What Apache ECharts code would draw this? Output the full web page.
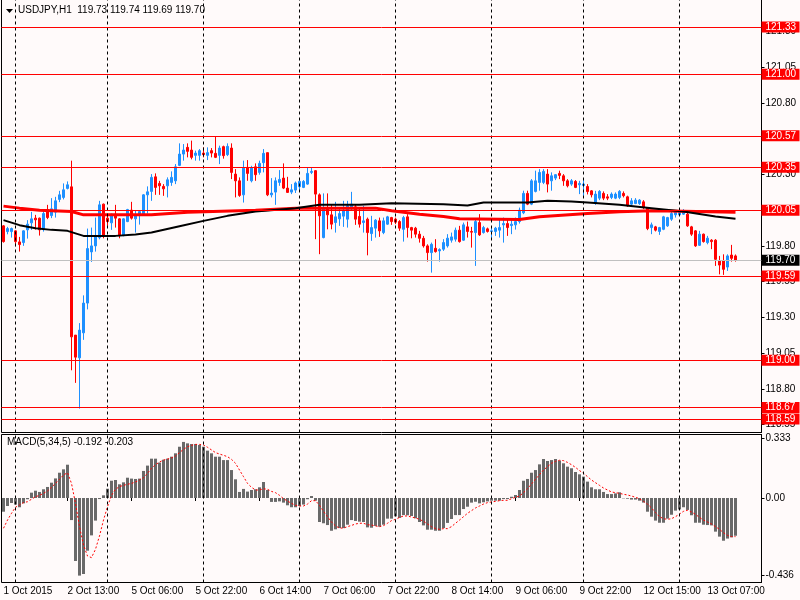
<!DOCTYPE html>
<html><head><meta charset="utf-8">
<script src="https://cdn.jsdelivr.net/npm/echarts@6/dist/echarts.min.js"></script>
<style>html,body{margin:0;padding:0;background:#fffafa}#c{width:800px;height:600px}</style>
</head><body><div id="c"></div>
<script>
const categories = Array.from({length: 190}, (_, i) => i);
const tickBars = [0,16,32,48,64,80,96,112,128,144,160,176];
const tickLabels = ['1 Oct 2015','2 Oct 13:00','5 Oct 06:00','5 Oct 22:00','6 Oct 14:00','7 Oct 06:00','7 Oct 22:00','8 Oct 14:00','9 Oct 06:00','9 Oct 22:00','12 Oct 15:00','13 Oct 07:00'];
const daySeparators = [3,26,50,74,98,122,145,169];
const priceTicks = [121.30,121.05,120.80,120.55,120.30,120.05,119.80,119.55,119.30,119.05,118.80,118.55];
const levelLines = [121.33,121.00,120.57,120.35,120.05,119.59,119.00,118.67,118.59];
const bidPrice = 119.70;
const macdTicks = [0.333, 0, -0.436];
const titleText = 'USDJPY,H1  119.73 119.74 119.69 119.70';
const macdText = 'MACD(5,34,5) -0.192 -0.203';

// [open, high, low, close]
const candles = [
[119.940,119.945,119.823,119.830],[119.900,119.933,119.881,119.921],[119.900,119.928,119.858,119.921],[119.905,119.909,119.797,119.830],
[119.828,119.863,119.760,119.809],[119.823,119.909,119.800,119.905],[119.912,119.980,119.851,119.952],[119.961,120.038,119.912,119.989],
[119.994,120.017,119.914,119.982],[119.994,119.998,119.872,119.912],[119.914,120.045,119.900,120.026],[120.054,120.087,119.987,119.998],
[120.012,120.134,119.994,120.059],[120.036,120.143,119.998,120.115],[120.125,120.185,120.106,120.157],[120.139,120.237,120.125,120.192],
[120.202,120.251,120.195,120.227],[120.213,120.396,118.930,119.164],[119.176,119.176,118.842,119.022],[119.017,119.260,118.662,119.211],
[119.192,119.454,119.143,119.400],[119.400,119.921,119.356,119.781],[119.758,119.928,119.688,119.800],[119.800,119.998,119.760,119.863],
[119.858,120.115,119.846,120.087],[120.092,120.096,119.853,119.872],[119.994,120.022,119.940,119.970],[119.961,120.026,119.912,120.022],
[120.022,120.087,119.928,119.994],[119.989,119.994,119.853,119.872],[119.872,119.994,119.867,119.989],[119.970,120.059,119.966,120.054],
[120.050,120.108,119.984,119.994],[119.989,120.045,119.893,120.012],[120.012,120.045,119.949,120.040],[120.022,120.162,120.010,120.157],
[120.157,120.216,120.026,120.178],[120.181,120.302,120.115,120.279],[120.283,120.307,120.157,120.209],[120.237,120.255,120.157,120.220],
[120.216,120.232,120.150,120.199],[120.220,120.279,120.139,120.262],[120.244,120.321,120.220,120.279],[120.255,120.372,120.232,120.353],
[120.363,120.517,120.358,120.442],[120.442,120.512,120.396,120.470],[120.489,120.517,120.419,120.461],[120.470,120.536,120.405,120.419],
[120.433,120.466,120.396,120.449],[120.433,120.477,120.396,120.466],[120.449,120.489,120.419,120.438],[120.433,120.489,120.400,120.452],
[120.466,120.484,120.419,120.449],[120.447,120.564,120.414,120.419],[120.433,120.501,120.372,120.484],[120.494,120.501,120.410,120.431],
[120.438,120.517,120.428,120.496],[120.484,120.517,120.267,120.314],[120.302,120.337,120.139,120.255],[120.255,120.279,120.143,120.153],
[120.157,120.396,120.103,120.344],[120.349,120.400,120.255,120.307],[120.255,120.360,120.244,120.344],[120.353,120.377,120.255,120.298],
[120.314,120.396,120.298,120.377],[120.382,120.477,120.314,120.447],[120.452,120.452,120.148,120.157],[120.157,120.274,120.139,120.169],
[120.176,120.279,120.087,120.255],[120.244,120.330,120.220,120.265],[120.274,120.377,120.197,120.204],[120.204,120.283,120.171,120.174],
[120.176,120.232,120.162,120.192],[120.190,120.250,120.170,120.240],[120.214,120.267,120.190,120.251],[120.209,120.260,120.204,120.251],
[120.232,120.349,120.227,120.307],[120.314,120.349,120.302,120.321],[120.326,120.330,119.847,120.162],[120.157,120.167,119.742,120.010],
[119.858,120.167,119.853,120.057],[120.064,120.167,119.916,120.017],[120.017,120.092,119.916,119.952],[119.963,120.108,119.893,120.003],
[119.989,120.068,119.940,120.026],[120.008,120.115,119.933,120.045],[119.987,120.115,119.928,120.080],[120.064,120.178,120.045,120.092],
[120.073,120.092,119.947,119.987],[120.006,120.068,119.928,119.952],[119.963,120.080,119.893,119.975],[119.987,119.998,119.734,119.893],
[119.886,120.010,119.835,119.928],[119.924,119.987,119.858,119.980],[119.975,119.998,119.863,119.905],[119.893,119.998,119.882,119.975],
[119.952,120.010,119.947,120.003],[119.998,120.003,119.947,119.970],[119.987,119.998,119.952,119.966],[119.970,119.980,119.905,119.924],
[119.916,120.010,119.830,119.998],[120.003,120.022,119.858,119.928],[119.928,119.933,119.853,119.910],[119.924,119.933,119.858,119.882],
[119.882,119.905,119.823,119.853],[119.853,119.870,119.788,119.800],[119.800,119.811,119.690,119.753],[119.753,119.823,119.613,119.811],
[119.783,119.847,119.753,119.760],[119.765,119.783,119.690,119.774],[119.777,119.847,119.765,119.823],[119.800,119.882,119.788,119.854],
[119.840,119.893,119.823,119.863],[119.847,119.928,119.830,119.910],[119.910,119.940,119.823,119.830],[119.840,119.963,119.835,119.947],
[119.933,119.970,119.858,119.901],[119.901,119.933,119.788,119.896],[119.893,119.987,119.660,119.970],[119.963,120.022,119.870,119.877],
[119.893,119.940,119.886,119.928],[119.919,119.928,119.893,119.901],[119.901,119.928,119.847,119.905],[119.901,119.933,119.870,119.924],
[119.910,119.987,119.858,119.928],[119.947,119.998,119.823,119.956],[119.956,119.987,119.870,119.928],[119.942,119.987,119.882,119.952],
[119.947,119.998,119.914,119.970],[119.970,120.068,119.956,120.050],[120.031,120.186,120.022,120.167],[120.167,120.186,120.085,120.092],
[120.092,120.267,120.085,120.255],[120.181,120.326,120.174,120.255],[120.244,120.337,120.186,120.314],[120.244,120.337,120.232,120.321],
[120.302,120.337,120.174,120.232],[120.255,120.314,120.186,120.290],[120.274,120.302,120.260,120.298],[120.307,120.326,120.267,120.293],
[120.290,120.302,120.220,120.255],[120.255,120.267,120.209,120.220],[120.232,120.267,120.220,120.255],[120.251,120.260,120.204,120.209],
[120.227,120.255,120.162,120.237],[120.223,120.260,120.150,120.232],[120.215,120.232,120.160,120.180],[120.185,120.190,120.139,120.157],
[120.099,120.185,120.087,120.162],[120.134,120.190,120.120,120.181],[120.167,120.181,120.120,120.134],[120.143,120.162,120.120,120.134],
[120.139,120.174,120.127,120.162],[120.134,120.174,120.127,120.162],[120.139,120.190,120.127,120.181],[120.167,120.181,120.139,120.151],
[120.143,120.151,120.073,120.080],[120.092,120.134,120.080,120.115],[120.096,120.134,120.092,120.120],[120.096,120.127,120.087,120.120],
[120.108,120.120,120.057,120.068],[120.064,120.068,119.910,119.921],[119.928,119.963,119.882,119.947],[119.933,119.940,119.901,119.910],
[119.901,119.933,119.877,119.928],[119.916,120.010,119.910,120.003],[119.940,120.003,119.933,119.998],[119.987,120.040,119.975,120.026],
[120.017,120.050,119.998,120.040],[120.017,120.050,120.010,120.040],[120.022,120.057,120.017,120.045],[120.022,120.033,119.933,119.940],
[119.933,119.940,119.870,119.882],[119.905,119.910,119.793,119.800],[119.804,119.905,119.800,119.882],[119.882,119.886,119.823,119.830],
[119.823,119.870,119.811,119.854],[119.840,119.847,119.777,119.830],[119.840,119.847,119.660,119.706],[119.694,119.730,119.601,119.666],
[119.694,119.741,119.597,119.636],[119.652,119.741,119.625,119.730],[119.736,119.807,119.690,119.713],[119.730,119.740,119.690,119.700]
];

// sampled moving averages [barIndex, value]
const maRed = [[0,120.078],[4,120.064],[9,120.05],[17,120.04],[20,120.017],[37,120.017],[46,120.036],[63,120.05],[73,120.064],[93,120.064],[97,120.045],[104,120.022],[110,120.005],[114,119.99],[129,119.984],[134,120.003],[146,120.026],[154,120.038],[162,120.045],[170,120.043],[183,120.036]];
const maBlack = [[0,119.98],[4,119.945],[8,119.924],[12,119.912],[16,119.905],[20,119.87],[28,119.87],[33,119.879],[37,119.893],[44,119.938],[50,119.975],[56,120.01],[63,120.04],[73,120.064],[79,120.087],[89,120.087],[97,120.099],[110,120.092],[116,120.082],[120,120.103],[131,120.103],[136,120.115],[142,120.11],[146,120.103],[154,120.087],[162,120.064],[170,120.04],[178,120.005],[183,119.99]];

const macdHist = [
-0.077,-0.045,-0.028,-0.037,-0.052,-0.030,-0.007,0.030,0.041,0.034,
0.049,0.062,0.086,0.110,0.142,0.161,0.187,-0.124,-0.354,-0.436,
-0.427,-0.296,-0.210,-0.127,-0.006,0.015,0.052,0.097,0.101,0.077,
0.088,0.114,0.109,0.107,0.109,0.152,0.182,0.221,0.221,0.199,
0.215,0.221,0.232,0.251,0.288,0.315,0.307,0.303,0.303,0.298,
0.288,0.266,0.251,0.232,0.232,0.213,0.213,0.157,0.105,0.034,
0.051,0.036,0.045,0.049,0.060,0.090,0.045,-0.022,-0.022,-0.019,
-0.026,-0.041,-0.052,-0.052,-0.045,-0.037,-0.007,0.011,-0.015,-0.135,
-0.142,-0.152,-0.184,-0.176,-0.169,-0.169,-0.150,-0.124,-0.129,-0.133,
-0.135,-0.165,-0.167,-0.157,-0.161,-0.150,-0.116,-0.116,-0.103,-0.112,
-0.096,-0.097,-0.101,-0.114,-0.135,-0.154,-0.178,-0.178,-0.184,-0.184,
-0.169,-0.140,-0.118,-0.096,-0.096,-0.062,-0.049,-0.026,-0.021,-0.030,
-0.024,-0.019,-0.015,-0.015,-0.015,-0.006,-0.006,0.007,0.017,0.045,
0.097,0.107,0.142,0.157,0.189,0.219,0.208,0.213,0.219,0.210,
0.195,0.176,0.167,0.146,0.133,0.120,0.092,0.060,0.049,0.049,
0.034,0.022,0.022,0.026,0.032,-0.002,-0.004,-0.009,-0.009,-0.015,
-0.026,-0.077,-0.105,-0.127,-0.139,-0.139,-0.116,-0.094,-0.071,-0.064,
-0.052,-0.067,-0.097,-0.139,-0.139,-0.150,-0.152,-0.154,-0.189,-0.217,
-0.240,-0.228,-0.221,-0.212
];
const macdSignal = [
-0.170,-0.124,-0.086,-0.052,-0.039,-0.026,-0.021,-0.007,0.007,0.015,
0.026,0.039,0.060,0.082,0.105,0.129,0.142,0.082,-0.030,-0.161,
-0.264,-0.326,-0.335,-0.288,-0.213,-0.124,-0.049,0.015,0.049,0.064,
0.071,0.077,0.082,0.090,0.101,0.114,0.139,0.167,0.187,0.202,
0.213,0.219,0.225,0.236,0.255,0.273,0.288,0.296,0.301,0.301,
0.298,0.285,0.270,0.255,0.247,0.240,0.232,0.217,0.195,0.157,
0.120,0.082,0.060,0.045,0.045,0.052,0.049,0.037,0.030,0.015,
-0.004,-0.017,-0.030,-0.041,-0.045,-0.045,-0.034,-0.015,-0.015,-0.041,
-0.075,-0.105,-0.135,-0.157,-0.169,-0.169,-0.161,-0.154,-0.146,-0.142,
-0.142,-0.150,-0.152,-0.157,-0.161,-0.155,-0.142,-0.127,-0.120,-0.109,
-0.101,-0.101,-0.107,-0.112,-0.120,-0.131,-0.146,-0.161,-0.172,-0.176,
-0.172,-0.172,-0.161,-0.142,-0.124,-0.105,-0.086,-0.071,-0.056,-0.045,
-0.034,-0.026,-0.022,-0.019,-0.015,-0.013,-0.013,-0.004,0.004,0.011,
0.030,0.052,0.079,0.105,0.131,0.157,0.176,0.195,0.206,0.212,
0.210,0.200,0.187,0.172,0.154,0.139,0.120,0.101,0.086,0.071,
0.056,0.045,0.034,0.030,0.026,0.021,0.017,0.011,0.004,-0.004,
-0.019,-0.034,-0.056,-0.082,-0.105,-0.116,-0.120,-0.116,-0.105,-0.090,
-0.075,-0.069,-0.079,-0.092,-0.109,-0.124,-0.135,-0.146,-0.161,-0.176,
-0.195,-0.210,-0.217,-0.217
];

const FONT = 'Liberation Sans';
const chart = echarts.init(document.getElementById('c'), null, {renderer: 'canvas'});

const sepLine = {silent: true, symbol: 'none', animation: false,
  label: {show: false}, emphasis: {disabled: true},
  lineStyle: {color: '#000', type: [3, 3], width: 1},
  data: daySeparators.map(i => ({xAxis: i}))};

const levelData = levelLines.map(v => ({
  yAxis: v,
  lineStyle: {color: '#ff0000', type: 'solid', width: 1},
  label: {show: true, position: 'end', distance: 0, formatter: v.toFixed(2),
    color: '#fff', backgroundColor: '#ff0000', padding: [1, 4, 0, 4], width: 30,
    fontSize: 10, lineHeight: 10, fontFamily: FONT}
}));
levelData.push({
  yAxis: bidPrice,
  lineStyle: {color: '#c0c0c0', type: 'solid', width: 1},
  label: {show: true, position: 'end', distance: 0, formatter: bidPrice.toFixed(2),
    color: '#fff', backgroundColor: '#000', padding: [1, 4, 0, 4], width: 30,
    fontSize: 10, lineHeight: 10, fontFamily: FONT}
});

const showTick = (idx) => tickBars.indexOf(idx) >= 0;

const option = {
  animation: false,
  backgroundColor: '#fffafa',
  textStyle: {fontFamily: FONT},
  graphic: [
    {type: 'polygon', shape: {points: [[6, 9], [13, 9], [9.5, 13]]}, style: {fill: '#000'}, silent: true},
    {type: 'text', left: 18, top: 5, silent: true,
      style: {text: titleText, fontSize: 10, fontFamily: FONT, fill: '#000'}},
    {type: 'text', left: 7, top: 437, silent: true,
      style: {text: macdText, fontSize: 10, fontFamily: FONT, fill: '#000'}}
  ],
  grid: [
    {left: 1.5, width: 760, top: -0.5, height: 433, show: true, borderColor: '#000', borderWidth: 1, backgroundColor: 'transparent', outerBoundsMode: 'none', containLabel: false},
    {left: 1.5, width: 760, top: 434.5, height: 148, show: true, borderColor: '#000', borderWidth: 1, backgroundColor: 'transparent', outerBoundsMode: 'none', containLabel: false}
  ],
  xAxis: [
    {type: 'category', gridIndex: 0, data: categories, boundaryGap: true,
      axisLine: {show: false}, axisTick: {show: false}, axisLabel: {show: false}, splitLine: {show: false}, axisPointer: {show: false}},
    {type: 'category', gridIndex: 1, data: categories, boundaryGap: true,
      axisLine: {show: false},
      axisTick: {show: true, alignWithLabel: true, interval: showTick, length: 3, lineStyle: {color: '#000'}},
      axisLabel: {show: true, interval: showTick, align: 'left', margin: 4, color: '#000', fontSize: 10, fontFamily: FONT,
        formatter: (val, idx) => { const k = tickBars.indexOf(Number(val)); return k >= 0 ? tickLabels[k] : ''; }},
      splitLine: {show: false}}
  ],
  yAxis: [
    {type: 'value', gridIndex: 0, position: 'right', min: 118.495, max: 121.523,
      axisLine: {show: true, lineStyle: {color: '#000'}},
      axisTick: {show: true, customValues: priceTicks, length: 3, lineStyle: {color: '#000'}},
      axisLabel: {show: true, customValues: priceTicks, formatter: v => v.toFixed(2), margin: 4, color: '#000', fontSize: 10, fontFamily: FONT},
      splitLine: {show: false}},
    {type: 'value', gridIndex: 1, position: 'right', min: -0.4747, max: 0.3567,
      axisLine: {show: true, lineStyle: {color: '#000'}},
      axisTick: {show: true, customValues: macdTicks, length: 3, lineStyle: {color: '#000'}},
      axisLabel: {show: true, customValues: macdTicks, formatter: v => (v === 0 ? '0.00' : String(v)), margin: 4, color: '#000', fontSize: 10, fontFamily: FONT},
      splitLine: {show: false}}
  ],
  series: [
    {type: 'line', xAxisIndex: 0, yAxisIndex: 0, data: [], z: 1, silent: true,
      markLine: Object.assign({}, sepLine, {data: sepLine.data.concat(levelData)})},
    {type: 'candlestick', xAxisIndex: 0, yAxisIndex: 0, z: 2, silent: true, barWidth: 2,
      data: candles.map(c => [c[0], c[3], c[2], c[1]]),
      itemStyle: {color: '#1e90ff', color0: '#ff0000', borderColor: '#1e90ff', borderColor0: '#ff0000', borderWidth: 1}},
    {type: 'line', xAxisIndex: 0, yAxisIndex: 0, data: maRed, z: 3, silent: true, symbol: 'none',
      lineStyle: {color: '#ff0000', width: 3}},
    {type: 'line', xAxisIndex: 0, yAxisIndex: 0, data: maBlack, z: 4, silent: true, symbol: 'none',
      lineStyle: {color: '#000', width: 2}},
    {type: 'line', xAxisIndex: 1, yAxisIndex: 1, data: [], z: 1, silent: true, markLine: sepLine},
    {type: 'bar', xAxisIndex: 1, yAxisIndex: 1, data: macdHist, barWidth: 3, z: 2, silent: true,
      itemStyle: {color: '#696969'}},
    {type: 'line', xAxisIndex: 1, yAxisIndex: 1, data: macdSignal, z: 3, silent: true, symbol: 'none',
      lineStyle: {color: '#ff0000', width: 1, type: [2, 2]}}
  ]
};
chart.setOption(option);
</script>
</body></html>
